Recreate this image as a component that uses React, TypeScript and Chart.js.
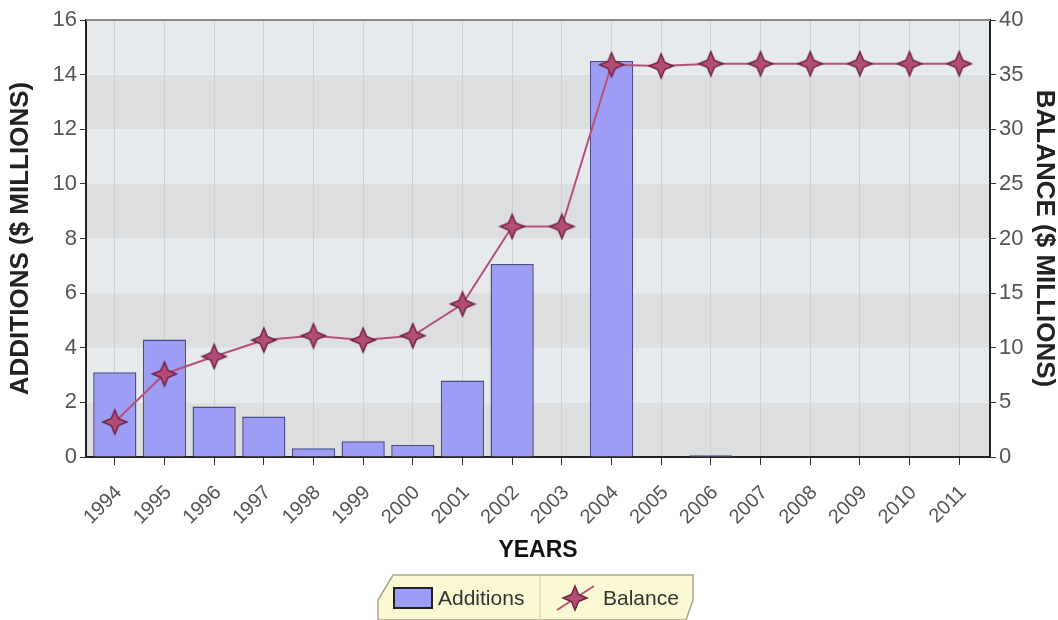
import React, { useEffect, useRef } from "react";
import { Chart, registerables } from "chart.js";

Chart.register(...registerables);

const YEARS = [1994, 1995, 1996, 1997, 1998, 1999, 2000, 2001, 2002, 2003, 2004, 2005, 2006, 2007, 2008, 2009, 2010, 2011];
const ADDITIONS = [3.1, 4.3, 1.85, 1.48, 0.32, 0.58, 0.44, 2.8, 7.07, 0, 14.5, 0, 0.06, 0, 0, 0, 0, 0];
const BALANCE = [3.2, 7.6, 9.2, 10.7, 11.1, 10.7, 11.1, 14.0, 21.1, 21.1, 35.9, 35.8, 36.0, 36.0, 36.0, 36.0, 36.0, 36.0];
const LEFT_TICKS = [0, 2, 4, 6, 8, 10, 12, 14, 16];
const RIGHT_TICKS = [0, 5, 10, 15, 20, 25, 30, 35, 40];

const FONT = "'Liberation Sans', Arial, sans-serif";
const BAR_FILL = "#9e9df6";
const BAR_BORDER = "#4a4a8c";
const LINE_COLOR = "#b5527a";
const STAR_FILL = "#b44c78";
const STAR_STROKE = "#6e2342";

function makeStar(r: number): HTMLCanvasElement {
  const size = Math.ceil(r * 2 + 4);
  const c = document.createElement("canvas");
  c.width = size;
  c.height = size;
  const ctx = c.getContext("2d")!;
  const cx = size / 2;
  const cy = size / 2;
  const ir = r * 0.42;
  ctx.beginPath();
  for (let i = 0; i < 8; i++) {
    const a = (i * Math.PI) / 4 - Math.PI / 2;
    const rr = i % 2 === 0 ? r : ir;
    const x = cx + rr * Math.cos(a);
    const y = cy + rr * Math.sin(a);
    if (i === 0) ctx.moveTo(x, y);
    else ctx.lineTo(x, y);
  }
  ctx.closePath();
  ctx.fillStyle = STAR_FILL;
  ctx.fill();
  ctx.lineWidth = 1.5;
  ctx.strokeStyle = STAR_STROKE;
  ctx.stroke();
  return c;
}

export default function App() {
  const ref = useRef<HTMLCanvasElement | null>(null);

  useEffect(() => {
    if (!ref.current) return;
    const star = makeStar(12);

    const bandsPlugin = {
      id: "bands",
      beforeDraw(chart: any) {
        const { ctx, chartArea, scales } = chart;
        const y = scales.y;
        ctx.save();
        for (let i = 0; i < LEFT_TICKS.length - 1; i++) {
          const top = y.getPixelForValue(LEFT_TICKS[i + 1]);
          const bottom = y.getPixelForValue(LEFT_TICKS[i]);
          ctx.fillStyle = i % 2 === 0 ? "#dcdee0" : "#e6eaed";
          ctx.fillRect(chartArea.left, top, chartArea.right - chartArea.left, bottom - top);
        }
        ctx.restore();
      },
      afterDatasetsDraw(chart: any) {
        const { ctx, chartArea } = chart;
        ctx.save();
        ctx.strokeStyle = "#8a8a8a";
        ctx.lineWidth = 2;
        ctx.beginPath();
        ctx.moveTo(chartArea.left, chartArea.top);
        ctx.lineTo(chartArea.right, chartArea.top);
        ctx.stroke();
        ctx.restore();
      },
      afterDraw(chart: any) {
        const { ctx } = chart;
        ctx.save();
        ctx.beginPath();
        ctx.moveTo(393, 575);
        ctx.lineTo(693, 575);
        ctx.lineTo(693, 600);
        ctx.lineTo(686, 620);
        ctx.lineTo(378, 620);
        ctx.lineTo(378, 600);
        ctx.closePath();
        ctx.fillStyle = "#fbf8d4";
        ctx.fill();
        ctx.strokeStyle = "#a9a58c";
        ctx.lineWidth = 1.5;
        ctx.stroke();
        ctx.beginPath();
        ctx.moveTo(540, 576);
        ctx.lineTo(540, 620);
        ctx.strokeStyle = "#d2cdb0";
        ctx.lineWidth = 1;
        ctx.stroke();
        // Additions swatch
        ctx.fillStyle = BAR_FILL;
        ctx.fillRect(394, 588, 38, 20);
        ctx.strokeStyle = "#222";
        ctx.lineWidth = 2;
        ctx.strokeRect(394, 588, 38, 20);
        ctx.fillStyle = "#333";
        ctx.font = `21px ${FONT}`;
        ctx.textBaseline = "middle";
        ctx.textAlign = "left";
        ctx.fillText("Additions", 438, 599);
        // Balance icon
        ctx.beginPath();
        ctx.moveTo(557, 610);
        ctx.lineTo(594, 586);
        ctx.strokeStyle = LINE_COLOR;
        ctx.lineWidth = 2;
        ctx.stroke();
        ctx.drawImage(star, 575 - star.width / 2, 598 - star.height / 2);
        ctx.fillStyle = "#333";
        ctx.fillText("Balance", 603, 599);
        ctx.restore();
      },
    };

    const chart = new Chart(ref.current, {
      type: "bar",
      data: {
        datasets: [
          {
            type: "line",
            label: "Balance",
            data: YEARS.map((yr, i) => ({ x: yr, y: BALANCE[i] })),
            yAxisID: "y1",
            borderColor: LINE_COLOR,
            borderWidth: 2,
            pointStyle: star as any,
            pointRadius: 12,
            tension: 0,
            order: 0,
          } as any,
          {
            type: "bar",
            label: "Additions",
            data: YEARS.map((yr, i) => ({ x: yr, y: ADDITIONS[i] })),
            yAxisID: "y",
            backgroundColor: BAR_FILL,
            borderColor: BAR_BORDER,
            borderWidth: 1.5,
            borderSkipped: "bottom",
            barPercentage: 0.87,
            categoryPercentage: 1,
            order: 1,
          } as any,
        ],
      },
      options: {
        responsive: false,
        animation: false,
        devicePixelRatio: 1,
        layout: { padding: { top: 20, left: 0, right: 0, bottom: 55 } },
        plugins: { legend: { display: false }, tooltip: { enabled: false } },
        scales: {
          x: {
            type: "linear",
            offset: false,
            min: 1993.42,
            max: 2011.62,
            afterBuildTicks: (s: any) => {
              s.ticks = YEARS.map((v) => ({ value: v }));
            },
            afterFit: (s: any) => {
              s.height = 108;
            },
            ticks: {
              autoSkip: false,
              minRotation: 45,
              maxRotation: 45,
              color: "#555",
              padding: 16,
              labelOffset: 4,
              font: { size: 20, family: FONT },
              callback: (v: any) => String(v),
            },
            grid: { offset: false, color: "#cdd1d4", lineWidth: 1, tickColor: "#333", tickLength: 8 },
            border: { display: true, color: "#222", width: 2 },
            title: {
              display: true,
              text: "YEARS",
              color: "#111",
              font: { size: 23, weight: "bold", family: FONT, lineHeight: 1.2 },
              padding: { top: 0, bottom: 1 },
            },
          },
          y: {
            position: "left",
            min: 0,
            max: 16,
            afterBuildTicks: (s: any) => {
              s.ticks = LEFT_TICKS.map((v) => ({ value: v }));
            },
            afterFit: (s: any) => {
              s.width = 86;
            },
            ticks: { color: "#555", padding: 3, font: { size: 22, family: FONT } },
            grid: { drawOnChartArea: false, tickLength: 6, tickColor: "#333" },
            border: { display: true, color: "#222", width: 2 },
            title: {
              display: true,
              text: "ADDITIONS ($ MILLIONS)",
              color: "#222",
              font: { size: 26, weight: "bold", family: FONT, lineHeight: 1.1 },
              padding: { top: 7, bottom: 0 },
            },
          },
          y1: {
            position: "right",
            min: 0,
            max: 40,
            afterBuildTicks: (s: any) => {
              s.ticks = RIGHT_TICKS.map((v) => ({ value: v }));
            },
            afterFit: (s: any) => {
              s.width = 68;
            },
            ticks: { color: "#555", padding: 3, font: { size: 22, family: FONT } },
            grid: { drawOnChartArea: false, tickLength: 6, tickColor: "#333" },
            border: { display: true, color: "#222", width: 2 },
            title: {
              display: true,
              text: "BALANCE ($ MILLIONS)",
              color: "#222",
              font: { size: 26, weight: "bold", family: FONT, lineHeight: 1.1 },
              padding: { top: 0, bottom: 0 },
            },
          },
        },
      } as any,
      plugins: [bandsPlugin],
    });

    return () => chart.destroy();
  }, []);

  return (
    <div style={{ position: "absolute", left: 0, top: 0, width: 1058, height: 620, background: "#fff" }}>
      <canvas ref={ref} width={1058} height={620} style={{ display: "block" }} />
    </div>
  );
}
